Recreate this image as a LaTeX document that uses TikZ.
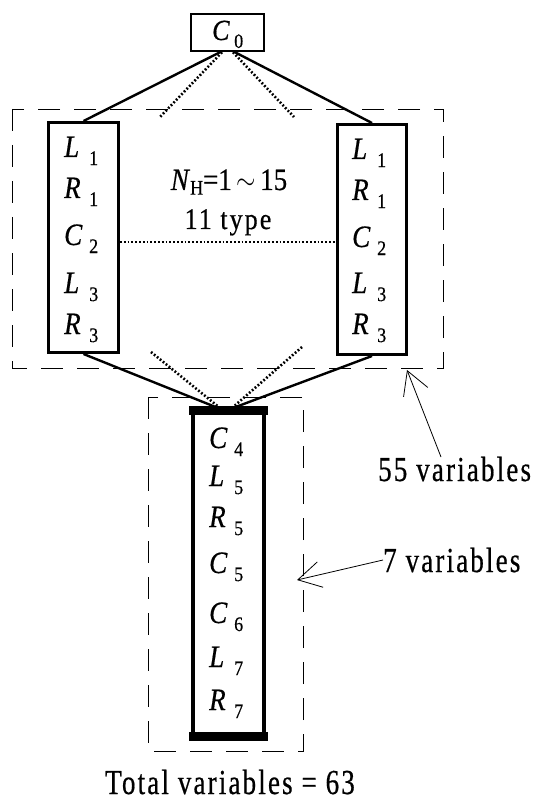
\documentclass[tikz,border=0pt]{standalone}
\usepackage{fontspec}
\setmainfont[FakeBold=0.6]{Liberation Serif}
\newfontfamily\capfont[LetterSpace=8,FakeBold=0.6]{Liberation Serif}
\usetikzlibrary{arrows.meta}
\newcommand\vlab[2]{\scalebox{1}[1.15]{\makebox[25pt][l]{\fontsize{27}{27}\selectfont\itshape #1}\raisebox{-7pt}{\fontsize{18}{18}\selectfont #2}}}
\newcommand\captxt[1]{\scalebox{1}[1.3]{\capfont\fontsize{27}{27}\selectfont #1}}
\begin{document}
\begin{tikzpicture}[x=1pt,y=-1pt,
  solidbox/.style={draw, line width=3pt, inner sep=0pt},
  conn/.style={line width=2.4pt},
  dots/.style={line width=2.6pt, dash pattern=on 1.8pt off 2pt},
  dashbox/.style={line width=0.9pt, dash pattern=on 22pt off 14pt},
  lab/.style={anchor=base west, inner sep=0pt},
  captext/.style={anchor=base west, inner sep=0pt},
  callout/.style={line width=0.8pt, -{Straight Barb[length=23pt,width=26pt]}}]
\useasboundingbox (0,0) rectangle (538,802);
\fill[white] (0,0) rectangle (538,802);

% dashed groups
\draw[dashbox] (12,109) rectangle (443,368);
\draw[dashbox] (148,397) rectangle (303,751);

% C0
\node[solidbox, line width=2.5pt, minimum width=73pt, minimum height=37pt] (c0) at (227.5,32.5) {};
\node[lab] (c0t) at (212,40) {\scalebox{1}[1.12]{\makebox[22pt][l]{\fontsize{26}{26}\selectfont\itshape C}\raisebox{-7pt}{\fontsize{18}{18}\selectfont 0}}};

% left box
\node[solidbox, minimum width=70pt, minimum height=230pt] (lb) at (83.5,237.5) {};
\node[lab] (l1) at (64,157) {\vlab{L}{1}};
\node[lab] (l2) at (64,198) {\vlab{R}{1}};
\node[lab] (l3) at (64,245) {\vlab{C}{2}};
\node[lab] (l4) at (64,293) {\vlab{L}{3}};
\node[lab] (l5) at (64,334) {\vlab{R}{3}};

% right box
\node[solidbox, minimum width=69pt, minimum height=230pt] (rb) at (372,239.5) {};
\node[lab] (r1) at (352,159) {\vlab{L}{1}};
\node[lab] (r2) at (352,200) {\vlab{R}{1}};
\node[lab] (r3) at (352,247) {\vlab{C}{2}};
\node[lab] (r4) at (352,293) {\vlab{L}{3}};
\node[lab] (r5) at (352,334) {\vlab{R}{3}};

% bottom box
\node[draw, line width=4pt, inner sep=0pt, minimum width=71pt, minimum height=327pt] (bot) at (228.5,573.5) {};
\fill ([xshift=-2pt,yshift=2pt]bot.north west) rectangle ([xshift=2pt,yshift=-7pt]bot.north east);
\fill ([xshift=-2pt,yshift=7pt]bot.south west) rectangle ([xshift=2pt,yshift=-2pt]bot.south east);
\node[lab] (b1) at (209,448) {\vlab{C}{4}};
\node[lab] (b2) at (209,486) {\vlab{L}{5}};
\node[lab] (b3) at (209,527) {\vlab{R}{5}};
\node[lab] (b4) at (209,573) {\vlab{C}{5}};
\node[lab] (b5) at (209,623) {\vlab{C}{6}};
\node[lab] (b6) at (209,667) {\vlab{L}{7}};
\node[lab] (b7) at (209,710) {\vlab{R}{7}};

% middle text
\node[anchor=base, inner sep=0pt] (nh) at (229,190) {\scalebox{1}[1.15]{\fontsize{27}{27}\selectfont\textit{N}\raisebox{-4pt}{\fontsize{18}{18}\selectfont H}=1\,$\sim$\,15}};
\node[anchor=base, inner sep=0pt] (ty) at (228,229) {\scalebox{1}[1.15]{\capfont\fontsize{26}{26}\selectfont 11 type}};

% connectors
\coordinate (tdl) at (160,117);
\coordinate (tdr) at (294,117);
\coordinate (bdl) at (151,352);
\coordinate (bdr) at (302,347);
\draw[conn] ([xshift=-7.5pt]c0.south) -- (lb.north);
\draw[conn] ([xshift=7.5pt]c0.south) -- (rb.north);
\draw[dots] ([xshift=-5.5pt]c0.south) -- (tdl);
\draw[dots] ([xshift=5.5pt]c0.south) -- (tdr);
\draw[conn] (lb.south) -- ([xshift=-10.5pt]bot.north);
\draw[conn] (rb.south) -- ([xshift=4.5pt]bot.north);
\draw[dots] (bdl) -- ([xshift=-8.5pt]bot.north);
\draw[dots] (bdr) -- ([xshift=3.5pt]bot.north);
\draw[dots] ([yshift=-4.5pt]lb.east) -- ([yshift=-2.5pt]rb.west);

% captions
\node[captext] (v55) at (378,481) {\captxt{55 variables}};
\node[captext] (v7) at (383,572) {\captxt{7 variables}};
\node[anchor=base, inner sep=0pt] (vt) at (230,794) {\captxt{Total variables = 63}};
\coordinate (a55) at (407,370);
\coordinate (a7) at (297,580);
\draw[callout] ([xshift=63pt,yshift=24pt]v55.base west) -- (a55);
\draw[callout] ([yshift=12pt]v7.base west) -- (a7);
\end{tikzpicture}
\end{document}
